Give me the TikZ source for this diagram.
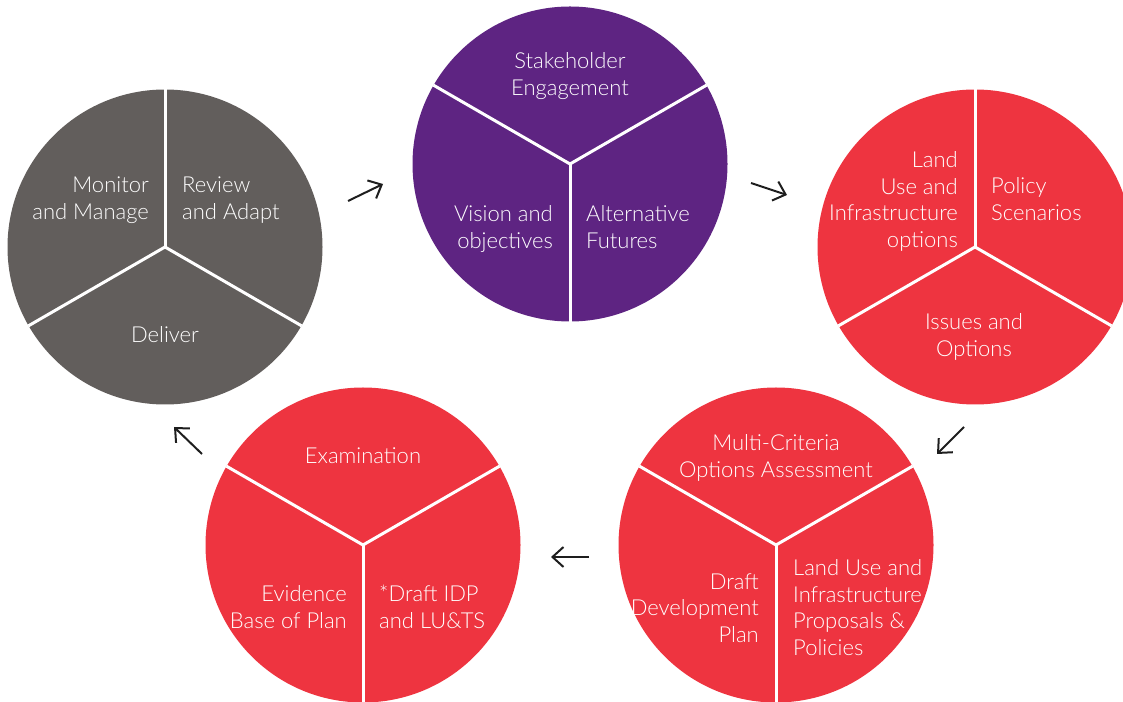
\documentclass[tikz,border=0pt]{standalone}
\usepackage{fontspec}
\setmainfont{Lato Light}
\usetikzlibrary{arrows.meta}
\definecolor{cgray}{RGB}{98,94,92}
\definecolor{cpurple}{RGB}{94,36,130}
\definecolor{cred}{RGB}{238,52,64}
\definecolor{carrow}{RGB}{30,30,30}
\tikzset{
  disc/.style={circle, minimum size=315pt, inner sep=0pt, draw=none},
  divider/.style={white, line width=3pt},
  lbl/.style={text=white, inner sep=0pt, yshift=-1.5pt, font=\fontsize{22}{26.7}\selectfont},
  flow/.style={carrow, line width=2pt, -{Straight Barb[length=11pt,width=20pt,line width=2pt]}}
}
\begin{document}
\begin{tikzpicture}[x=1pt,y=1pt]
\useasboundingbox (0,0) rectangle (1123,701);
\clip (0,0) rectangle (1123,701);
% circles
\node[disc, fill=cgray]   (g)  at (165,454) {};
\node[disc, fill=cpurple] (p)  at (570,537) {};
\node[disc, fill=cred]    (r1) at (975,454) {};
\node[disc, fill=cred]    (r2) at (776,156) {};
\node[disc, fill=cred]    (r3) at (363,156) {};
% dividers
\foreach \n in {g,r1}{
  \draw[divider] (\n.center) -- (\n.90);
  \draw[divider] (\n.center) -- (\n.210);
  \draw[divider] (\n.center) -- (\n.330);
}
\foreach \n in {p,r2,r3}{
  \draw[divider] (\n.center) -- (\n.270);
  \draw[divider] (\n.center) -- (\n.150);
  \draw[divider] (\n.center) -- (\n.30);
}
% labels
\node[lbl, align=right, anchor=base east] (gm) at (149,483) {Monitor\\and Manage};
\node[lbl, align=left, anchor=base west] (gr) at (182,483) {Review\\and Adapt};
\node[lbl, anchor=base] (gd) at (165,360) {Deliver};
\node[lbl, align=center, anchor=base] (ps) at (570,607) {Stakeholder\\Engagement};
\node[lbl, align=right, anchor=base east] (pv) at (553,454) {Vision and\\objectives};
\node[lbl, align=left, anchor=base west] (pa) at (586,454) {Alternative\\Futures};
\node[lbl, align=right, anchor=base east] (rl) at (958,455) {Land\\Use and\\Infrastructure\\options};
\node[lbl, align=left, anchor=base west] (rp) at (991,482) {Policy\\Scenarios};
\node[lbl, align=center, anchor=base] (ri) at (974,346) {Issues and\\Options};
\node[lbl, anchor=base] (ex) at (363,239) {Examination};
\node[lbl, align=right, anchor=base east] (ev) at (347,74) {Evidence\\Base of Plan};
\node[lbl, align=left, anchor=base west] (dr) at (379,74) {*Draft IDP\\and LU\&TS};
\node[lbl, align=center, anchor=base] (mc) at (776,225) {Multi-Criteria\\Options Assessment};
\node[lbl, align=right, anchor=base east] (dd) at (759,60) {Draft\\Development\\Plan};
\node[lbl, align=left, anchor=base west] (lu) at (793,47) {Land Use and\\Infrastructure\\Proposals \&\\Policies};
% arrows
\coordinate (a1s) at (348,500); \coordinate (a1e) at (383,517);
\coordinate (a2s) at (751,518); \coordinate (a2e) at (787,506);
\coordinate (a3s) at (964,274); \coordinate (a3e) at (937,247);
\coordinate (a4s) at (589,144); \coordinate (a4e) at (551,144);
\coordinate (a5s) at (202,247); \coordinate (a5e) at (174,274);
\draw[flow] (a1s) -- (a1e);
\draw[flow] (a2s) -- (a2e);
\draw[flow] (a3s) -- (a3e);
\draw[flow] (a4s) -- (a4e);
\draw[flow] (a5s) -- (a5e);
\end{tikzpicture}
\end{document}
